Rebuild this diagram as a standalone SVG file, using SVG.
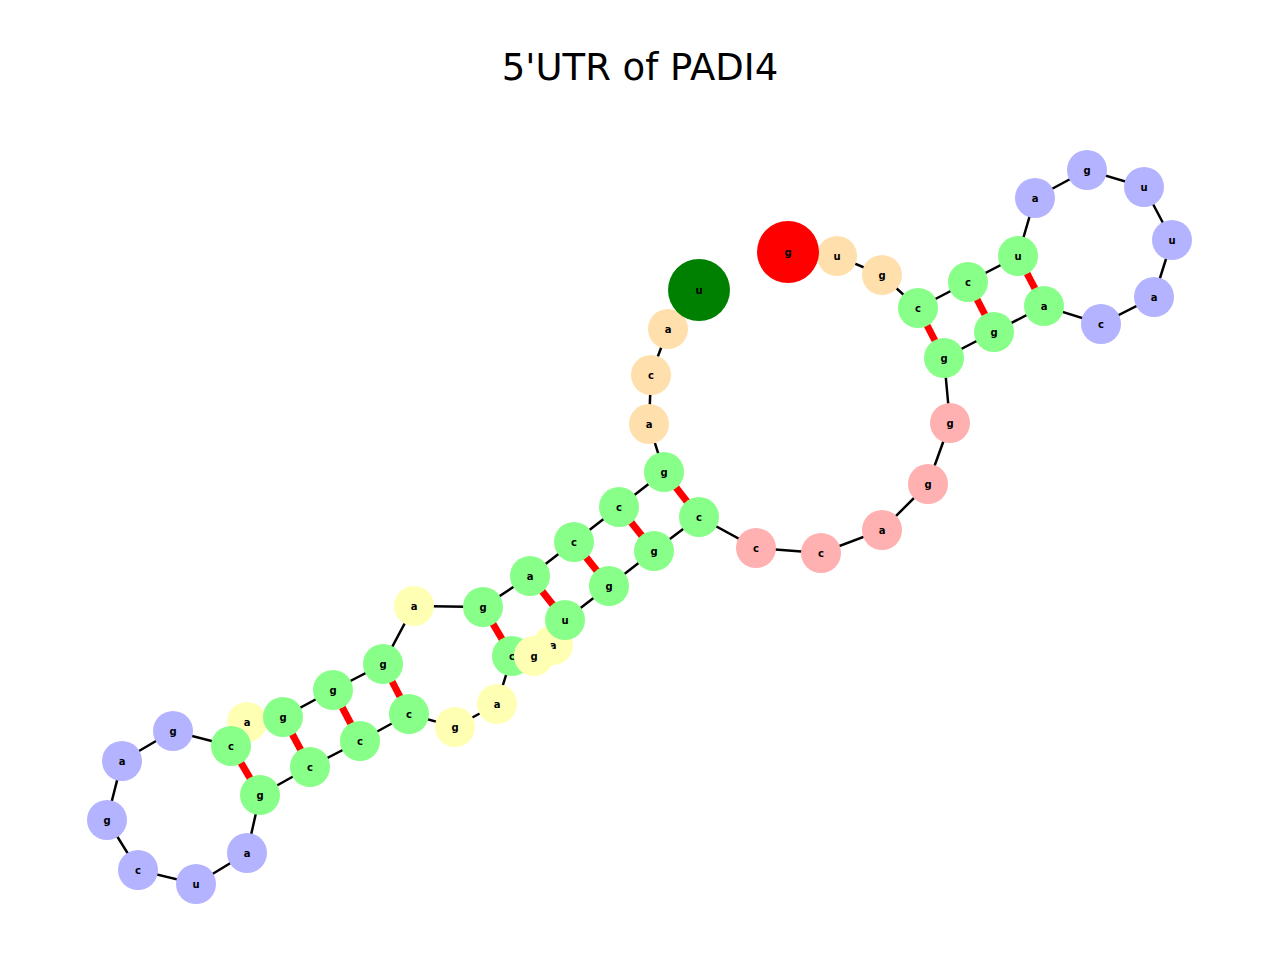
<svg xmlns="http://www.w3.org/2000/svg" width="1280" height="960" viewBox="0 0 1280 960">
<style>
.b{stroke:#000;stroke-width:2.5;fill:none}
.p{stroke:#f00;stroke-width:7}
.n text{font-family:"DejaVu Sans",sans-serif;font-weight:bold;font-size:10px;text-anchor:middle;dominant-baseline:central}
.G{fill:#88ff88}.Y{fill:#ffffb3}.O{fill:#ffe0ad}.P{fill:#ffb0b0}.L{fill:#b3b3ff}
</style>
<rect width="1280" height="960" fill="#fff"/>
<text x="640" y="80" font-family="DejaVu Sans,sans-serif" font-size="37" text-anchor="middle">5'UTR of PADI4</text>
<g id="connectors">
<polyline class="b" points="699,290 668,329 651,375 649,424 664,472 619,507 574,542 530,576 483,607 414,606 383,664 333,690 283,717 247,722 231,746 173,731 122,761 107,820 138,870 196,884 247,853 260,795 310,767 360,741 409,714 455,727 497,704 512,656 534,656 553,645 565,620 609,586 654,551 699,517 756,548 821,553 882,530 928,484 950,423 944,358 994,332 1044,306 1101,324 1154,297 1172,240 1144,187 1087,170 1035,198 1018,256 968,282 918,308 882,275 837,256 788,252"/>
<line class="p" x1="664" y1="472" x2="699" y2="517"/>
<line class="p" x1="619" y1="507" x2="654" y2="551"/>
<line class="p" x1="574" y1="542" x2="609" y2="586"/>
<line class="p" x1="530" y1="576" x2="565" y2="620"/>
<line class="p" x1="483" y1="607" x2="512" y2="656"/>
<line class="p" x1="383" y1="664" x2="409" y2="714"/>
<line class="p" x1="333" y1="690" x2="360" y2="741"/>
<line class="p" x1="283" y1="717" x2="310" y2="767"/>
<line class="p" x1="231" y1="746" x2="260" y2="795"/>
<line class="p" x1="944" y1="358" x2="918" y2="308"/>
<line class="p" x1="994" y1="332" x2="968" y2="282"/>
<line class="p" x1="1044" y1="306" x2="1018" y2="256"/>
</g>
<g id="n1" class="n"><circle cx="512" cy="656" r="20" class="G"/><text x="512" y="656">c</text></g>
<g id="n2" class="n"><circle cx="247" cy="722" r="20" class="Y"/><text x="247" y="722">a</text></g>
<g id="n3" class="n"><circle cx="553" cy="645" r="20" class="Y"/><text x="553" y="645">a</text></g>
<g id="n4" class="n"><circle cx="534" cy="656" r="20" class="Y"/><text x="534" y="656">g</text></g>
<g id="n5" class="n"><circle cx="414" cy="606" r="20" class="Y"/><text x="414" y="606">a</text></g>
<g id="n6" class="n"><circle cx="455" cy="727" r="20" class="Y"/><text x="455" y="727">g</text></g>
<g id="n7" class="n"><circle cx="497" cy="704" r="20" class="Y"/><text x="497" y="704">a</text></g>
<g id="n8" class="n"><circle cx="668" cy="329" r="20" class="O"/><text x="668" y="329">a</text></g>
<g id="n9" class="n"><circle cx="651" cy="375" r="20" class="O"/><text x="651" y="375">c</text></g>
<g id="n10" class="n"><circle cx="649" cy="424" r="20" class="O"/><text x="649" y="424">a</text></g>
<g id="n11" class="n"><circle cx="837" cy="256" r="20" class="O"/><text x="837" y="256">u</text></g>
<g id="n12" class="n"><circle cx="882" cy="275" r="20" class="O"/><text x="882" y="275">g</text></g>
<g id="n13" class="n"><circle cx="664" cy="472" r="20" class="G"/><text x="664" y="472">g</text></g>
<g id="n14" class="n"><circle cx="619" cy="507" r="20" class="G"/><text x="619" y="507">c</text></g>
<g id="n15" class="n"><circle cx="574" cy="542" r="20" class="G"/><text x="574" y="542">c</text></g>
<g id="n16" class="n"><circle cx="530" cy="576" r="20" class="G"/><text x="530" y="576">a</text></g>
<g id="n17" class="n"><circle cx="483" cy="607" r="20" class="G"/><text x="483" y="607">g</text></g>
<g id="n18" class="n"><circle cx="383" cy="664" r="20" class="G"/><text x="383" y="664">g</text></g>
<g id="n19" class="n"><circle cx="333" cy="690" r="20" class="G"/><text x="333" y="690">g</text></g>
<g id="n20" class="n"><circle cx="283" cy="717" r="20" class="G"/><text x="283" y="717">g</text></g>
<g id="n21" class="n"><circle cx="231" cy="746" r="20" class="G"/><text x="231" y="746">c</text></g>
<g id="n22" class="n"><circle cx="260" cy="795" r="20" class="G"/><text x="260" y="795">g</text></g>
<g id="n23" class="n"><circle cx="310" cy="767" r="20" class="G"/><text x="310" y="767">c</text></g>
<g id="n24" class="n"><circle cx="360" cy="741" r="20" class="G"/><text x="360" y="741">c</text></g>
<g id="n25" class="n"><circle cx="409" cy="714" r="20" class="G"/><text x="409" y="714">c</text></g>
<g id="n26" class="n"><circle cx="565" cy="620" r="20" class="G"/><text x="565" y="620">u</text></g>
<g id="n27" class="n"><circle cx="609" cy="586" r="20" class="G"/><text x="609" y="586">g</text></g>
<g id="n28" class="n"><circle cx="654" cy="551" r="20" class="G"/><text x="654" y="551">g</text></g>
<g id="n29" class="n"><circle cx="699" cy="517" r="20" class="G"/><text x="699" y="517">c</text></g>
<g id="n30" class="n"><circle cx="944" cy="358" r="20" class="G"/><text x="944" y="358">g</text></g>
<g id="n31" class="n"><circle cx="994" cy="332" r="20" class="G"/><text x="994" y="332">g</text></g>
<g id="n32" class="n"><circle cx="1044" cy="306" r="20" class="G"/><text x="1044" y="306">a</text></g>
<g id="n33" class="n"><circle cx="1018" cy="256" r="20" class="G"/><text x="1018" y="256">u</text></g>
<g id="n34" class="n"><circle cx="968" cy="282" r="20" class="G"/><text x="968" y="282">c</text></g>
<g id="n35" class="n"><circle cx="918" cy="308" r="20" class="G"/><text x="918" y="308">c</text></g>
<g id="n36" class="n"><circle cx="756" cy="548" r="20" class="P"/><text x="756" y="548">c</text></g>
<g id="n37" class="n"><circle cx="821" cy="553" r="20" class="P"/><text x="821" y="553">c</text></g>
<g id="n38" class="n"><circle cx="882" cy="530" r="20" class="P"/><text x="882" y="530">a</text></g>
<g id="n39" class="n"><circle cx="928" cy="484" r="20" class="P"/><text x="928" y="484">g</text></g>
<g id="n40" class="n"><circle cx="950" cy="423" r="20" class="P"/><text x="950" y="423">g</text></g>
<g id="n41" class="n"><circle cx="173" cy="731" r="20" class="L"/><text x="173" y="731">g</text></g>
<g id="n42" class="n"><circle cx="122" cy="761" r="20" class="L"/><text x="122" y="761">a</text></g>
<g id="n43" class="n"><circle cx="107" cy="820" r="20" class="L"/><text x="107" y="820">g</text></g>
<g id="n44" class="n"><circle cx="138" cy="870" r="20" class="L"/><text x="138" y="870">c</text></g>
<g id="n45" class="n"><circle cx="196" cy="884" r="20" class="L"/><text x="196" y="884">u</text></g>
<g id="n46" class="n"><circle cx="247" cy="853" r="20" class="L"/><text x="247" y="853">a</text></g>
<g id="n47" class="n"><circle cx="1101" cy="324" r="20" class="L"/><text x="1101" y="324">c</text></g>
<g id="n48" class="n"><circle cx="1154" cy="297" r="20" class="L"/><text x="1154" y="297">a</text></g>
<g id="n49" class="n"><circle cx="1172" cy="240" r="20" class="L"/><text x="1172" y="240">u</text></g>
<g id="n50" class="n"><circle cx="1144" cy="187" r="20" class="L"/><text x="1144" y="187">u</text></g>
<g id="n51" class="n"><circle cx="1087" cy="170" r="20" class="L"/><text x="1087" y="170">g</text></g>
<g id="n52" class="n"><circle cx="1035" cy="198" r="20" class="L"/><text x="1035" y="198">a</text></g>
<g id="n53" class="n"><circle cx="699" cy="290" r="31" fill="#008000"/><text x="699" y="290">u</text></g>
<g id="n54" class="n"><circle cx="788" cy="252" r="31" fill="#ff0000"/><text x="788" y="252">g</text></g>
</svg>
